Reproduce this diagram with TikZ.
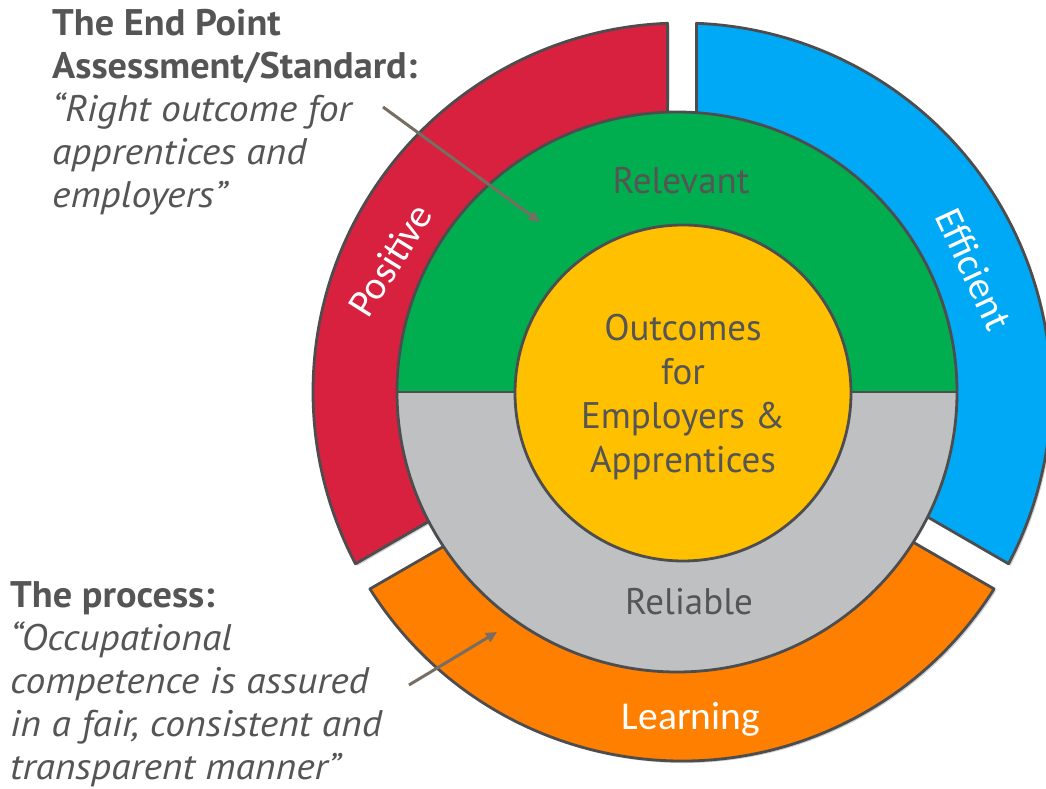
\documentclass[tikz,border=0pt]{standalone}
\usepackage{fontspec}
\setmainfont{PT Sans}
\newfontfamily\sidefont[FakeStretch=1.07, BoldFeatures={FakeStretch=1.035}]{PT Sans}
\newfontfamily\calfont{Carlito}
\usetikzlibrary{arrows.meta,calc,shadows}
\definecolor{segred}{HTML}{D8203F}
\definecolor{segblue}{HTML}{00A9F6}
\definecolor{segorange}{HTML}{FF7F00}
\definecolor{midgreen}{HTML}{00AD4F}
\definecolor{midgray}{HTML}{BFC0C2}
\definecolor{coreyellow}{HTML}{FFC000}
\definecolor{edgegray}{HTML}{4D4D4F}
\definecolor{txtgray}{HTML}{555555}
\definecolor{arrowbrown}{HTML}{766E63}
\tikzset{
  outline/.style={draw=edgegray, line width=2.8pt, line join=round},
  softshadow/.style={drop shadow={shadow xshift=2pt, shadow yshift=-2pt, opacity=0.18, fill=black}},
  maintext/.style={inner sep=0pt, text=txtgray, font=\fontsize{37}{44}\selectfont},
  segtext/.style={inner sep=0pt, text=white, font=\calfont\fontsize{39.5}{44}\selectfont},
  sidetext/.style={inner sep=0pt, text=txtgray, align=left, font=\sidefont\fontsize{37}{43.2}\selectfont},
  pointer/.style={draw=arrowbrown, line width=3pt, -{Triangle[length=11pt,width=10pt]}}
}
\begin{document}
\begin{tikzpicture}[x=1pt,y=1pt]
\useasboundingbox (0,0) rectangle (1046,789);
\clip (0,0) rectangle (1046,789);
\coordinate (C) at (682,397);
\coordinate (M) at (677,397);
\coordinate (Y) at (683,396);
% outer ring segments
\path[outline, fill=segblue, softshadow] ($(C)+(-27.75:369)$) arc[start angle=-27.75, end angle=87.75, radius=369]
  -- ($(C)+(86.94:272)$) arc[start angle=86.94, end angle=-26.94, radius=272] -- cycle;
\path[outline, fill=segred, softshadow] ($(C)+(92.25:369)$) arc[start angle=92.25, end angle=207.75, radius=369]
  -- ($(C)+(206.94:272)$) arc[start angle=206.94, end angle=93.06, radius=272] -- cycle;
\path[outline, fill=segorange, softshadow] ($(C)+(212.25:369)$) arc[start angle=212.25, end angle=327.75, radius=369]
  -- ($(C)+(326.94:272)$) arc[start angle=326.94, end angle=213.06, radius=272] -- cycle;
% middle circle
\fill[midgreen] ($(M)+(280,0)$) arc[start angle=0, end angle=180, radius=280] -- cycle;
\fill[midgray] ($(M)+(-280,0)$) arc[start angle=180, end angle=360, radius=280] -- cycle;
\draw[outline] ($(M)+(-280,0)$) -- ($(M)+(280,0)$);
\draw[outline] (M) circle[radius=280];
% core
\draw[outline, fill=coreyellow] (Y) circle[radius=168];
% texts in the diagram
\node[maintext, anchor=base] (relevant) at (681,595) {Relevant};
\node[maintext, anchor=base] (reliable) at (689,174) {Reliable};
\node[maintext, anchor=base, align=center] (outcomes) at (683,316) {Outcomes\\for\\Employers \&\\Apprentices};
\node[segtext, anchor=base] (learning) at (691,59) {Learning};
\node[segtext, rotate=58] (positive) at (390,529) {Positive};
\node[segtext, rotate=-65] (efficient) at (974,520) {Efficient};
% side texts
\node[sidetext, anchor=base west] (epa) at (52,581) {\textbf{The End Point}\\\textbf{Assessment/Standard:}\\\textit{“Right outcome for}\\\textit{apprentices and}\\\textit{employers”}};
\node[sidetext, anchor=base west] (process) at (10,9) {\textbf{The process:}\\\textit{“Occupational}\\\textit{competence is assured}\\\textit{in a fair, consistent and}\\\textit{transparent manner”}};
% arrows
\coordinate (a1s) at (383,682);
\coordinate (a1e) at (540,567);
\coordinate (a2s) at (409,104);
\coordinate (a2e) at (497,157);
\draw[pointer] (a1s) -- (a1e);
\draw[pointer] (a2s) -- (a2e);
\end{tikzpicture}
\end{document}
